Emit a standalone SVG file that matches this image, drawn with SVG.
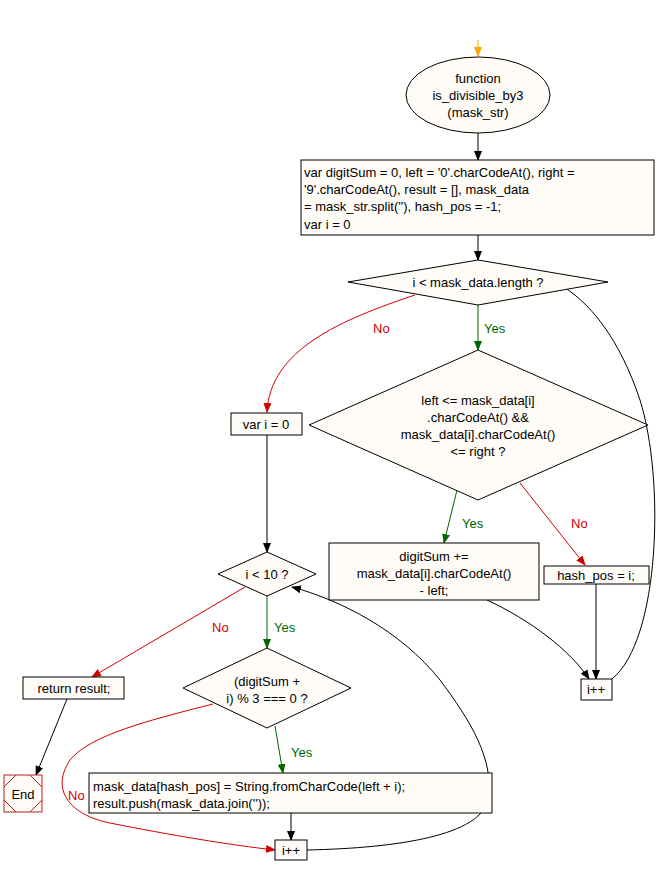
<svg xmlns="http://www.w3.org/2000/svg" width="668" height="876" viewBox="0 0 668 876">
<defs>
<style>
.n{fill:#fffcf7;stroke:#000;stroke-width:1}
text{font-family:"Liberation Sans",Arial,sans-serif;font-size:13px;fill:#000}
.c{text-anchor:middle}
.e{fill:none;stroke-width:1}
.k{stroke:#000}.r{stroke:#d00000}.g{stroke:#006400}.o{stroke:#ffa500}
.lr{fill:#d00000}.lg{fill:#006400}
</style>
<marker id="ak" markerWidth="10" markerHeight="8" refX="9" refY="4" orient="auto" markerUnits="userSpaceOnUse"><path d="M0,0L10,4L0,8z" fill="#000"/></marker>
<marker id="ar" markerWidth="10" markerHeight="8" refX="9" refY="4" orient="auto" markerUnits="userSpaceOnUse"><path d="M0,0L10,4L0,8z" fill="#d00000"/></marker>
<marker id="ag" markerWidth="10" markerHeight="8" refX="9" refY="4" orient="auto" markerUnits="userSpaceOnUse"><path d="M0,0L10,4L0,8z" fill="#006400"/></marker>
<marker id="ao" markerWidth="10" markerHeight="8" refX="9" refY="4" orient="auto" markerUnits="userSpaceOnUse"><path d="M0,0L10,4L0,8z" fill="#ffa500"/></marker>
</defs>
<g id="connectors">
<path class="e o" d="M478,40L478,56" marker-end="url(#ao)"/>
<path class="e k" d="M478,133L478,160" marker-end="url(#ak)"/>
<path class="e k" d="M478,235L478,260" marker-end="url(#ak)"/>
<path class="e r" d="M415,295C340,320 270,350 267,412" marker-end="url(#ar)"/>
<path class="e g" d="M478,305L478,350" marker-end="url(#ag)"/>
<path class="e g" d="M457,490L444,543" marker-end="url(#ag)"/>
<path class="e r" d="M520,483L585,565" marker-end="url(#ar)"/>
<path class="e k" d="M487,600C530,620 570,650 589,679" marker-end="url(#ak)"/>
<path class="e k" d="M596,584L596,679" marker-end="url(#ak)"/>
<path class="e k" d="M612,679C660,640 665,480 640,400C620,340 590,300 555,282" marker-end="url(#ak)"/>
<path class="e k" d="M267,435L267,552" marker-end="url(#ak)"/>
<path class="e r" d="M245,587L92,677" marker-end="url(#ar)"/>
<path class="e g" d="M267,596L267,648" marker-end="url(#ag)"/>
<path class="e g" d="M275,726L283,773" marker-end="url(#ag)"/>
<path class="e r" d="M213,704C150,720 90,735 70,760C50,790 70,815 110,823C170,835 230,845 275,850" marker-end="url(#ar)"/>
<path class="e k" d="M291,813L291,840" marker-end="url(#ak)"/>
<path class="e k" d="M307,850C400,848 480,835 488,800C495,760 470,720 440,680C400,630 340,600 292,587" marker-end="url(#ak)"/>
<path class="e k" d="M67,699L36,775" marker-end="url(#ak)"/>
</g>
<g id="start"><ellipse class="n" cx="478" cy="95" rx="72" ry="38"/><text class="c" x="478" y="83">function</text><text class="c" x="478" y="100">is_divisible_by3</text><text class="c" x="478" y="117">(mask_str)</text></g>
<g id="init"><rect class="n" x="301" y="160" width="353" height="75"/><text x="304" y="177">var digitSum = 0, left = '0'.charCodeAt(), right =</text><text x="304" y="194">'9'.charCodeAt(), result = [], mask_data</text><text x="304" y="211">= mask_str.split(''), hash_pos = -1;</text><text x="304" y="229">var i = 0</text></g>
<g id="cond1"><polygon class="n" points="478,260 608,282 478,305 348,282"/><text class="c" x="478" y="287">i &lt; mask_data.length ?</text></g>
<g id="vari"><rect class="n" x="231" y="413" width="71" height="22"/><text class="c" x="266" y="429">var i = 0</text></g>
<g id="cond2"><polygon class="n" points="478,350 648,425 478,500 309,425"/><text class="c" x="478" y="405">left &lt;= mask_data[i]</text><text class="c" x="478" y="422">.charCodeAt() &amp;&amp;</text><text class="c" x="478" y="439">mask_data[i].charCodeAt()</text><text class="c" x="478" y="456">&lt;= right ?</text></g>
<g id="sum"><rect class="n" x="329" y="543" width="210" height="57"/><text class="c" x="434" y="561">digitSum +=</text><text class="c" x="434" y="578">mask_data[i].charCodeAt()</text><text class="c" x="434" y="595">- left;</text></g>
<g id="hash"><rect class="n" x="544" y="566" width="105" height="18"/><text class="c" x="596" y="580">hash_pos = i;</text></g>
<g id="inc1"><rect class="n" x="581" y="679" width="31" height="21"/><text class="c" x="596" y="694">i++</text></g>
<g id="cond3"><polygon class="n" points="267,552 316,574 267,596 218,574"/><text class="c" x="267" y="579">i &lt; 10 ?</text></g>
<g id="ret"><rect class="n" x="23" y="677" width="101" height="22"/><text class="c" x="74" y="693">return result;</text></g>
<g id="cond4"><polygon class="n" points="267,648 351,688 267,728 183,688"/><text class="c" x="267" y="686">(digitSum +</text><text class="c" x="267" y="703">i) % 3 === 0 ?</text></g>
<g id="mask"><rect class="n" x="89" y="773" width="403" height="40"/><text x="93" y="791">mask_data[hash_pos] = String.fromCharCode(left + i);</text><text x="93" y="808">result.push(mask_data.join(''));</text></g>
<g id="inc2"><rect class="n" x="275" y="840" width="32" height="20"/><text class="c" x="291" y="855">i++</text></g>
<g id="end"><rect x="4" y="775" width="38" height="37" fill="#fffcf7" stroke="#b22222"/><path d="M4,787L16,775M30,775L42,787M42,800L30,812M16,812L4,800" fill="none" stroke="#b22222"/><text class="c" x="23" y="799">End</text></g>
<g id="labels">
<text class="lr" x="373" y="333">No</text><text class="lg" x="484" y="333">Yes</text>
<text class="lg" x="462" y="528">Yes</text><text class="lr" x="571" y="528">No</text>
<text class="lr" x="212" y="632">No</text><text class="lg" x="274" y="632">Yes</text>
<text class="lg" x="291" y="757">Yes</text><text class="lr" x="68" y="800">No</text>
</g>
</svg>
